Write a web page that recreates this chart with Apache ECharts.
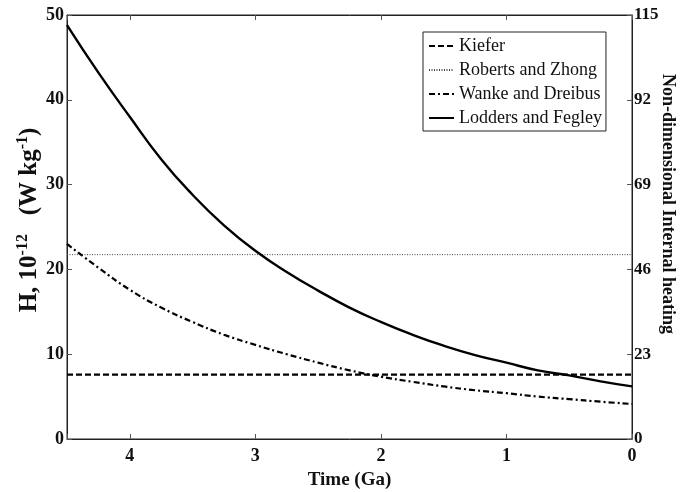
<!DOCTYPE html>
<html>
<head>
<meta charset="utf-8">
<script src="https://cdn.jsdelivr.net/npm/echarts@6/dist/echarts.min.js"></script>
<style>html,body{margin:0;padding:0;background:#fff}#c{width:692px;height:492px}</style>
</head>
<body>
<div id="c"></div>
<script>
// Time (Ga)
var times = [4.5, 4.25, 4, 3.75, 3.5, 3.25, 3, 2.75, 2.5, 2.25, 2, 1.75, 1.5, 1.25, 1, 0.75, 0.5, 0.25, 0];
// H, 10^-12 W/kg
var kiefer = [7.6, 7.6, 7.6, 7.6, 7.6, 7.6, 7.6, 7.6, 7.6, 7.6, 7.6, 7.6, 7.6, 7.6, 7.6, 7.6, 7.6, 7.6, 7.6];
var robertsZhong = [21.74, 21.74, 21.74, 21.74, 21.74, 21.74, 21.74, 21.74, 21.74, 21.74, 21.74, 21.74, 21.74, 21.74, 21.74, 21.74, 21.74, 21.74, 21.74];
var wankeDreibus = [23.0, 20.2, 17.6, 15.5, 13.8, 12.3, 11.1, 10.0, 9.0, 8.1, 7.35, 6.75, 6.2, 5.75, 5.4, 5.0, 4.7, 4.4, 4.13];
var loddersFegley = [48.8, 43.2, 38.0, 33.0, 28.8, 25.2, 22.2, 19.7, 17.5, 15.5, 13.8, 12.3, 11.0, 9.9, 9.0, 8.1, 7.5, 6.8, 6.2];
var xTicks = [0, 1, 2, 3, 4];
var leftTicks = [0, 10, 20, 30, 40, 50];
var rightTicks = [0, 23, 46, 69, 92, 115];

function pairs(vals) { return times.map(function (t, i) { return [t, vals[i]]; }); }

var serif = 'Liberation Serif';
var chart = echarts.init(document.getElementById('c'), null, {renderer: 'canvas'});
var axisLineStyle = {color: '#222', width: 1};
chart.setOption({
  animation: false,
  backgroundColor: '#fff',
  grid: {left: 67, right: 60, top: 15, bottom: 53, containLabel: false, outerBoundsMode: 'none',
    show: true, borderColor: '#222', borderWidth: 1, backgroundColor: 'transparent'},
  legend: {
    orient: 'vertical',
    left: 423, top: 32,
    backgroundColor: '#fff',
    borderColor: '#222', borderWidth: 1,
    padding: [5, 4, 4, 5],
    itemWidth: 25, itemHeight: 14, itemGap: 6,
    itemStyle: {opacity: 0},
    textStyle: {fontFamily: serif, fontSize: 18, color: '#111'},
    data: ['Kiefer', 'Roberts and Zhong', 'Wanke and Dreibus', 'Lodders and Fegley']
  },
  xAxis: [{
    type: 'value', min: 0, max: 4.5, interval: 1, inverse: true,
    name: 'Time (Ga)', nameLocation: 'middle', nameGap: 32, nameMoveOverlap: false,
    nameTextStyle: {fontFamily: serif, fontWeight: 'bold', fontSize: 19, color: '#111'},
    axisLine: {show: true, onZero: false, lineStyle: axisLineStyle},
    axisTick: {show: true, inside: true, length: 5, lineStyle: {color: '#555'}},
    axisLabel: {margin: 8, fontFamily: serif, fontWeight: 'bold', fontSize: 18, color: '#111',
      formatter: function (v) { return xTicks.indexOf(v) >= 0 ? String(v) : ''; }},
    splitLine: {show: false}
  }, {
    type: 'value', min: 0, max: 4.5, interval: 1, inverse: true, position: 'top',
    axisLine: {show: true, onZero: false, lineStyle: axisLineStyle},
    axisTick: {show: true, inside: true, length: 5, lineStyle: {color: '#555'}},
    axisLabel: {show: false},
    splitLine: {show: false}
  }],
  yAxis: [{
    type: 'value', min: 0, max: 50, interval: 10, position: 'left',
    name: '{b|H, 10}{s|-12}{b|   (W kg}{s|-1}{b|)}',
    nameLocation: 'middle', nameGap: 23, nameRotate: 90, nameMoveOverlap: false,
    nameTextStyle: {
      padding: [0, 0, 0, 14],
      rich: {
        b: {fontFamily: serif, fontWeight: 'bold', fontSize: 25, color: '#111'},
        s: {fontFamily: serif, fontWeight: 'bold', fontSize: 16, color: '#111', padding: [0, 0, 13, 0]}
      }
    },
    axisLine: {show: true, onZero: false, lineStyle: axisLineStyle},
    axisTick: {show: true, inside: true, length: 5, lineStyle: {color: '#555'}},
    axisLabel: {margin: 3, fontFamily: serif, fontWeight: 'bold', fontSize: 18, color: '#111',
      formatter: function (v) { return leftTicks.indexOf(v) >= 0 ? String(v) : ''; }},
    splitLine: {show: false}
  }, {
    type: 'value', min: 0, max: 115, interval: 23, position: 'right',
    name: 'Non-dimensional Internal heating',
    nameLocation: 'middle', nameGap: 27, nameRotate: -90, nameMoveOverlap: false,
    nameTextStyle: {fontFamily: serif, fontWeight: 'bold', fontSize: 18, color: '#111', padding: [0, 46, 0, 0]},
    axisLine: {show: true, onZero: false, lineStyle: axisLineStyle},
    axisTick: {show: true, inside: true, length: 5, lineStyle: {color: '#555'}},
    axisLabel: {margin: 2, fontFamily: serif, fontWeight: 'bold', fontSize: 17, color: '#111',
      formatter: function (v) { return rightTicks.indexOf(v) >= 0 ? String(v) : ''; }},
    splitLine: {show: false}
  }],
  series: [{
    name: 'Kiefer', type: 'line', symbol: 'none', data: pairs(kiefer),
    lineStyle: {color: '#000', width: 2.2, type: [6, 3]}, itemStyle: {color: '#000'}
  }, {
    name: 'Roberts and Zhong', type: 'line', symbol: 'none', data: pairs(robertsZhong),
    lineStyle: {color: '#444', width: 1, type: [1, 1.5]}, itemStyle: {color: '#444'}
  }, {
    name: 'Wanke and Dreibus', type: 'line', symbol: 'none', smooth: true, data: pairs(wankeDreibus),
    lineStyle: {color: '#000', width: 2.2, type: [6, 3, 2, 3]}, itemStyle: {color: '#000'}
  }, {
    name: 'Lodders and Fegley', type: 'line', symbol: 'none', smooth: true, data: pairs(loddersFegley),
    lineStyle: {color: '#000', width: 2.4, type: 'solid'}, itemStyle: {color: '#000'}
  }]
});
</script>
</body>
</html>
